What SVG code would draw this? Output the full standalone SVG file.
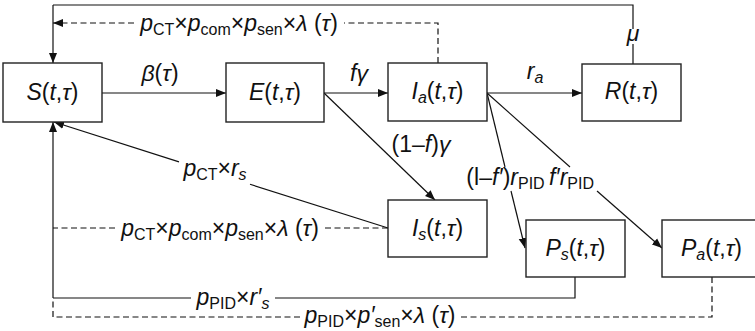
<svg xmlns="http://www.w3.org/2000/svg" width="755" height="331" viewBox="0 0 755 331">
<style>
.box{fill:#fff;stroke:#222;stroke-width:1.4}
.ln{fill:none;stroke:#111;stroke-width:1.2}
.dl{fill:none;stroke:#111;stroke-width:1.2;stroke-dasharray:6 3.5}
text{font-family:"Liberation Sans",Arial,sans-serif;font-size:23px;fill:#111}
.i{font-style:italic}
.s{font-size:16px}
</style>
<defs>
<marker id="ah" viewBox="0 0 10 10" refX="10" refY="5" markerWidth="10" markerHeight="10" markerUnits="userSpaceOnUse" orient="auto">
<path d="M0,1 L10,5 L0,9 Z" fill="#111"/>
</marker>
</defs>
<g id="connectors">
<line class="ln" x1="102" y1="93" x2="226" y2="93" marker-end="url(#ah)"/>
<line class="ln" x1="324" y1="93" x2="388" y2="93" marker-end="url(#ah)"/>
<line class="ln" x1="487" y1="93" x2="582" y2="93" marker-end="url(#ah)"/>
<line class="ln" x1="324" y1="93" x2="435" y2="200" marker-end="url(#ah)"/>
<path class="ln" d="M487,93 L505,167"/>
<line class="ln" x1="511" y1="191" x2="525" y2="248" marker-end="url(#ah)"/>
<path class="ln" d="M487,93 L570,167"/>
<line class="ln" x1="597" y1="191" x2="662" y2="248" marker-end="url(#ah)"/>
<path class="ln" d="M388,228 L250,184.3"/>
<line class="ln" x1="179" y1="161.9" x2="54" y2="122" marker-end="url(#ah)"/>
<path class="dl" d="M388,228 H325 M115,228 H53"/>
<path class="ln" d="M575,277 V298 H275 M191,298 H53"/>
<line class="ln" x1="53" y1="298" x2="53" y2="122" marker-end="url(#ah)"/>
<path class="dl" d="M712,277 V317 H460 M300,317 H53 V298"/>
<path class="ln" d="M633,65 V44 M633,29 V5 H53"/>
<line class="ln" x1="53" y1="5" x2="53" y2="63" marker-end="url(#ah)"/>
<path class="dl" d="M438,63 V23 H344"/>
<line class="dl" x1="134" y1="23" x2="53" y2="23" marker-end="url(#ah)"/>
<text x="160" y="81" text-anchor="middle"><tspan class="i">β</tspan>(<tspan class="i">τ</tspan>)</text>
<text x="359" y="81" text-anchor="middle" class="i">fγ</text>
<text x="535" y="79" text-anchor="middle"><tspan class="i">r</tspan><tspan class="s i" dy="4">a</tspan></text>
<text x="633" y="41" text-anchor="middle" class="i">μ</text>
<text x="421" y="152" text-anchor="middle">(1–<tspan class="i">f</tspan>)<tspan class="i">γ</tspan></text>
<text x="505.5" y="185" text-anchor="middle">(l–<tspan class="i">f′</tspan>)<tspan class="i">r</tspan><tspan class="s" dy="4">PID</tspan></text>
<text x="571.5" y="185" text-anchor="middle"><tspan class="i">f′r</tspan><tspan class="s" dy="4">PID</tspan></text>
<text x="239" y="31" text-anchor="middle"><tspan class="i">p</tspan><tspan class="s" dy="4">CT</tspan><tspan dy="-4">×</tspan><tspan class="i">p</tspan><tspan class="s" dy="4">com</tspan><tspan dy="-4">×</tspan><tspan class="i">p</tspan><tspan class="s" dy="4">sen</tspan><tspan dy="-4">×</tspan><tspan class="i">λ</tspan> (<tspan class="i">τ</tspan>)</text>
<text x="215" y="176" text-anchor="middle"><tspan class="i">p</tspan><tspan class="s" dy="4">CT</tspan><tspan dy="-4">×</tspan><tspan class="i">r</tspan><tspan class="s i" dy="4">s</tspan></text>
<text x="220" y="236" text-anchor="middle"><tspan class="i">p</tspan><tspan class="s" dy="4">CT</tspan><tspan dy="-4">×</tspan><tspan class="i">p</tspan><tspan class="s" dy="4">com</tspan><tspan dy="-4">×</tspan><tspan class="i">p</tspan><tspan class="s" dy="4">sen</tspan><tspan dy="-4">×</tspan><tspan class="i">λ</tspan> (<tspan class="i">τ</tspan>)</text>
<text x="233" y="305" text-anchor="middle"><tspan class="i">p</tspan><tspan class="s" dy="4">PID</tspan><tspan dy="-4">×</tspan><tspan class="i">r′</tspan><tspan class="s i" dy="4">s</tspan></text>
<text x="380" y="323" text-anchor="middle"><tspan class="i">p</tspan><tspan class="s" dy="4">PID</tspan><tspan dy="-4">×</tspan><tspan class="i">p′</tspan><tspan class="s" dy="4">sen</tspan><tspan dy="-4">×</tspan><tspan class="i">λ</tspan> (<tspan class="i">τ</tspan>)</text>
</g>
<g id="S"><rect class="box" x="3" y="63" width="99" height="59"/><text x="52.5" y="100" text-anchor="middle"><tspan class="i">S</tspan>(<tspan class="i">t</tspan>,<tspan class="i">τ</tspan>)</text></g>
<g id="E"><rect class="box" x="226" y="63" width="98" height="59"/><text x="275" y="100" text-anchor="middle"><tspan class="i">E</tspan>(<tspan class="i">t</tspan>,<tspan class="i">τ</tspan>)</text></g>
<g id="Ia"><rect class="box" x="388" y="63" width="99" height="58"/><text x="437.5" y="99" text-anchor="middle"><tspan class="i">I</tspan><tspan class="s i" dy="4">a</tspan><tspan dy="-4">(</tspan><tspan class="i">t</tspan>,<tspan class="i">τ</tspan>)</text></g>
<g id="R"><rect class="box" x="582" y="64" width="99" height="57"/><text x="631.5" y="99" text-anchor="middle"><tspan class="i">R</tspan>(<tspan class="i">t</tspan>,<tspan class="i">τ</tspan>)</text></g>
<g id="Is"><rect class="box" x="388" y="200" width="99" height="57"/><text x="437.5" y="236" text-anchor="middle"><tspan class="i">I</tspan><tspan class="s i" dy="4">s</tspan><tspan dy="-4">(</tspan><tspan class="i">t</tspan>,<tspan class="i">τ</tspan>)</text></g>
<g id="Ps"><rect class="box" x="526" y="220" width="99" height="57"/><text x="575.5" y="256" text-anchor="middle"><tspan class="i">P</tspan><tspan class="s i" dy="4">s</tspan><tspan dy="-4">(</tspan><tspan class="i">t</tspan>,<tspan class="i">τ</tspan>)</text></g>
<g id="Pa"><rect class="box" x="662" y="220" width="99" height="57"/><text x="711.5" y="256" text-anchor="middle"><tspan class="i">P</tspan><tspan class="s i" dy="4">a</tspan><tspan dy="-4">(</tspan><tspan class="i">t</tspan>,<tspan class="i">τ</tspan>)</text></g>
</svg>
